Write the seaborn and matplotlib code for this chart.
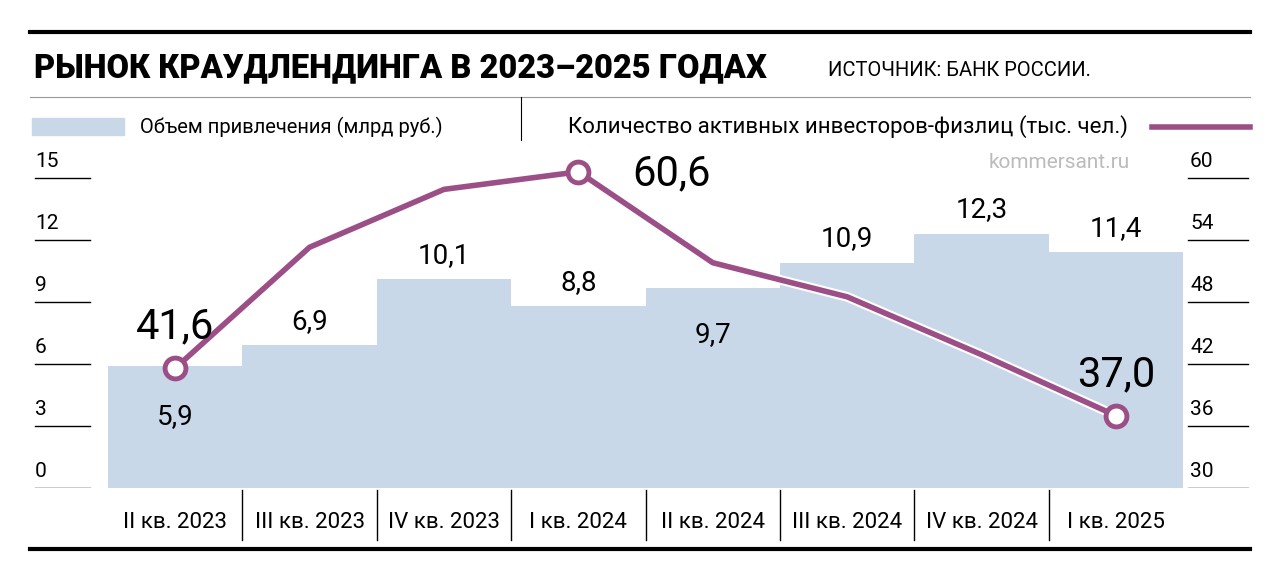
import numpy as np
import matplotlib.pyplot as plt
import seaborn as sns

quarters = ["II кв. 2023", "III кв. 2023", "IV кв. 2023", "I кв. 2024",
            "II кв. 2024", "III кв. 2024", "IV кв. 2024", "I кв. 2025"]
volume = [5.9, 6.9, 10.1, 8.8, 9.7, 10.9, 12.3, 11.4]
investors = [41.6, 53.3, 58.9, 60.6, 51.8, 48.5, 42.9, 37.0]
left_ticks = [0, 3, 6, 9, 12, 15]
right_ticks = [30, 36, 42, 48, 54, 60]

W, H = 1280, 583
bar_c = "#c9d8e8"
line_c = "#9b4f86"
plt.rcParams["font.family"] = ["Roboto", "DejaVu Sans"]

fig = plt.figure(figsize=(12.8, 5.83), dpi=100)
# axes: x pixels 30..1250, y pixels 488 (value 0)..140
ax = fig.add_axes([30 / W, 1 - 488 / H, 1220 / W, 348 / H])
step = 134.4
xl = -0.5 - 78 / step
xr = -0.5 + 1142 / step
ytop = 15 * 348 / 310

x = np.arange(len(quarters))
sns.barplot(x=x, y=volume, color=bar_c, width=1.0, ax=ax, native_scale=True,
            saturation=1, linewidth=0)
ax.set_xlim(xl, xr)
ax.set_ylim(0, ytop)
ax.axis("off")

inv_scaled = [(v - 30) / 2 for v in investors]
ax.plot(x, inv_scaled, color="white", lw=7, zorder=3, solid_capstyle="round")
ax.plot(x, inv_scaled, color=line_c, lw=4, zorder=4, solid_joinstyle="round")
for i in (0, 3, 7):
    ax.plot(x[i], inv_scaled[i], "o", ms=15, mfc="white", mec=line_c, mew=3.5, zorder=5)

# value labels for bars
offs = {0: -1.8, 4: -1.6}
for i, v in enumerate(volume):
    dy = offs.get(i, 0.5)
    ax.text(x[i], v + dy, f"{v:.1f}".replace(".", ","), ha="center",
            va="bottom" if dy > 0 else "top", fontsize=20, zorder=6)
# big line labels
big_pos = {0: (0, 1.0, "center"), 3: (0.4, -1.1, "left"), 7: (0, 1.0, "center")}
for i, (dx, dy, ha) in big_pos.items():
    ax.text(x[i] + dx, inv_scaled[i] + dy, f"{investors[i]:.1f}".replace(".", ","),
            ha=ha, va="bottom", fontsize=30, zorder=6)

# axis ticks
for t in left_ticks:
    ax.plot([xl + 5 / step, xl + 60 / step], [t, t], color="black", lw=1)
    ax.text(xl + 5 / step, t + 0.35, str(t), ha="left", va="bottom", fontsize=15)
for t in right_ticks:
    yv = (t - 30) / 2
    ax.plot([xr - 62 / step, xr - 2 / step], [yv, yv], color="black", lw=1)
    ax.text(xr - 60 / step, yv + 0.35, str(t), ha="left", va="bottom", fontsize=15)

# category labels
for i, q in enumerate(quarters):
    fig.text((108 + step * i + step / 2) / W, 1 - 522 / H, q, ha="center", va="center", fontsize=16)
for i in range(1, len(quarters)):
    xp = (108 + step * i) / W
    fig.add_artist(plt.Line2D([xp, xp], [1 - 490 / H, 1 - 540 / H], color="black", lw=1))

# frame lines
fig.add_artist(plt.Line2D([30 / W, 1250 / W], [1 - 32 / H] * 2, color="black", lw=3))
fig.add_artist(plt.Line2D([30 / W, 1250 / W], [1 - 97 / H] * 2, color="#999999", lw=0.8))
fig.add_artist(plt.Line2D([30 / W, 1250 / W], [1 - 549 / H] * 2, color="black", lw=3))
fig.add_artist(plt.Line2D([521 / W, 521 / W], [1 - 97 / H, 1 - 140 / H], color="black", lw=0.8))

fig.text(34 / W, 1 - 68 / H, "РЫНОК КРАУДЛЕНДИНГА В 2023–2025 ГОДАХ", fontsize=23.5,
         fontweight="black", va="center")
fig.text(828 / W, 1 - 70 / H, "ИСТОЧНИК: БАНК РОССИИ.", fontsize=14.5, va="center")

# legend
fig.patches.append(plt.Rectangle((32 / W, 1 - 135 / H), 92 / W, 17 / H, color=bar_c,
                                 transform=fig.transFigure))
fig.text(140 / W, 1 - 127 / H, "Объем привлечения (млрд руб.)", fontsize=14.5, va="center")
fig.text(568 / W, 1 - 127 / H, "Количество активных инвесторов-физлиц (тыс. чел.)",
         fontsize=16, va="center")
fig.add_artist(plt.Line2D([1152 / W, 1250 / W], [1 - 127 / H] * 2, color=line_c, lw=4))
fig.text(1130 / W, 1 - 162 / H, "kommersant.ru", fontsize=15, color="#bbbbbb", ha="right", va="center")

fig.savefig("out.png", dpi=100)
